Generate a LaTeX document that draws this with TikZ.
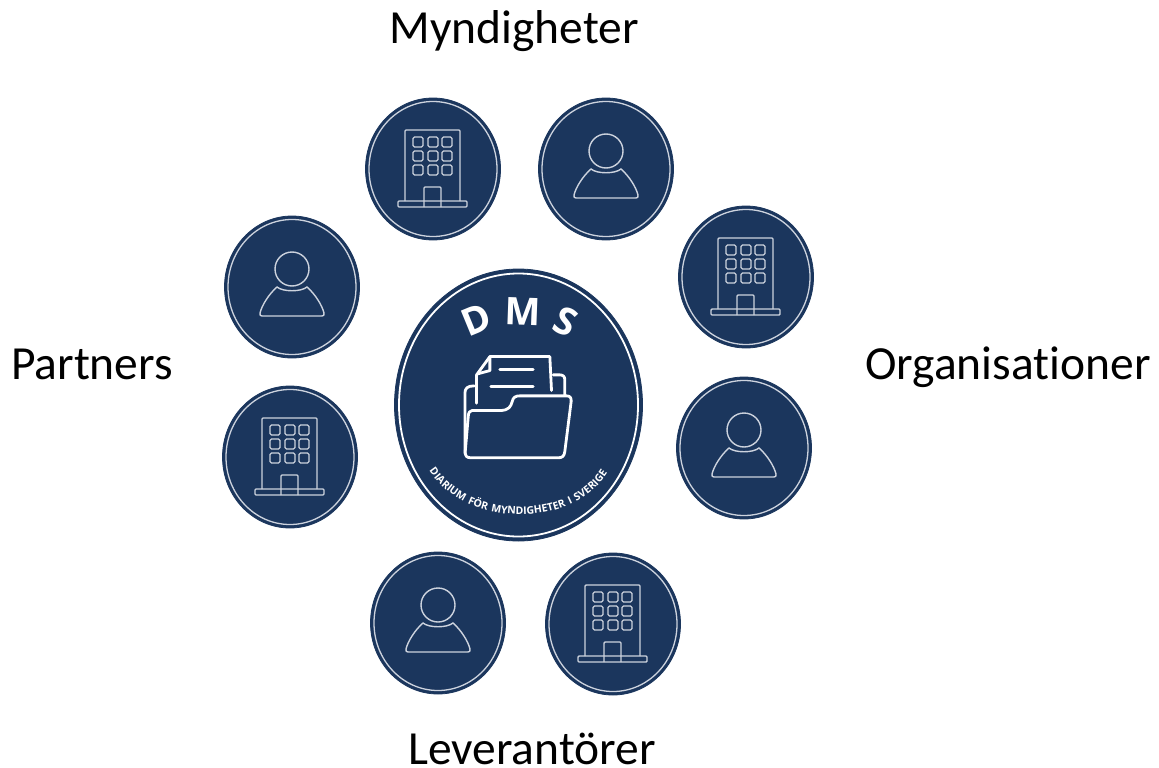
\documentclass[tikz,border=0pt]{standalone}
\usepackage{fontspec}
\setmainfont[RawFeature=-liga]{Carlito}
\newfontfamily\badgefont{Open Sans}
\newfontfamily\badgewide[LetterSpace=11]{Open Sans}
\usetikzlibrary{positioning,shapes.geometric,decorations.text}
\definecolor{dmsnavy}{HTML}{1B365D}
\definecolor{dmsline}{HTML}{CDD3DE}

\begin{document}
\begin{tikzpicture}[
    x=1pt, y=-1pt,
    disc/.style={ellipse, draw=dmsnavy, line width=0.8pt, fill=dmsnavy, minimum width=135pt, minimum height=142pt, inner sep=0pt},
    ring/.style={ellipse, draw=dmsline, line width=1.3pt, minimum width=128pt, minimum height=135pt, inner sep=0pt},
    icon/.style={draw=dmsline, line width=1.4pt, rounded corners=1pt},
    paperline/.style={draw=white, line width=2.8pt, line join=round, line cap=round},
    title/.style={font=\fontsize{47.5}{55}\selectfont, inner sep=0pt, anchor=base},
    building/.pic={
      \node[ring] (-r) at (0,0) {};
      \path[icon] (-28,32) -- (-28,-39) -- (27,-39) -- (27,32);
      \path[icon] (-35,32) rectangle (34,38);
      \path[icon] (-9,38) -- (-9,18) -- (8,18) -- (8,38);
      \foreach \wx in {-15,0,14}
        \foreach \wy in {-27,-13,1}
          \path[icon, rounded corners=1.5pt, line width=1.2pt] (\wx-5,\wy-5) rectangle (\wx+5,\wy+5);
    },
    person/.pic={
      \node[ring] (-r) at (0,0) {};
      \draw[icon] (0,-18) circle[radius=17];
      \path[icon, rounded corners=0pt] (-15,0) .. controls (-9,5) and (9,5) .. (15,0)
        .. controls (23,7) and (30,18) .. (32,26)
        .. controls (32.5,28) and (31.5,29) .. (30,29) -- (-30,29)
        .. controls (-31.5,29) and (-32.5,28) .. (-32,26)
        .. controls (-30,18) and (-23,7) .. (-15,0) -- cycle;
    }
  ]
  \useasboundingbox (0,0) rectangle (1159,768);

  % Centre badge
  \node[disc, minimum width=248pt, minimum height=272pt] (dms) at (518.5,405) {};
  \node[ring, draw=white, line width=1.8pt, minimum width=239pt, minimum height=263pt] (dmsring) at (dms) {};

  % Folder, in a grid three times finer
  \begin{scope}[shift={(385,260)}, x=0.333pt, y=-0.333pt]
    \path[paperline] (275,430) -- (275,345) -- (315,290) -- (495,290) -- (500,392);
    \path[paperline] (315,290) -- (315,332) -- (278,342);
    \path[paperline] (345,328) -- (445,328);
    \path[paperline] (318,380) -- (445,380);
    \path[paperline] (268,378) .. controls (248,378) and (240,385) .. (240,400) -- (240,580);
    \path[paperline] (505,345) -- (525,345) .. controls (535,345) and (540,350) .. (540,360) -- (540,405);
    \path[paperline] (262,452) -- (345,452) .. controls (372,452) and (378,440) .. (382,425)
      .. controls (385,412) and (392,408) .. (405,408) -- (545,408)
      .. controls (556,408) and (560,414) .. (559,425) -- (540,575)
      .. controls (538,590) and (532,594) .. (520,594) -- (258,594)
      .. controls (245,594) and (240,588) .. (241,575) -- (250,470)
      .. controls (251,458) and (254,452) .. (262,452) -- cycle;
  \end{scope}

  % Curved badge texts
  \path[decorate, decoration={text along path, text align=center,
      text={|\badgefont\bfseries\fontsize{38}{42}\selectfont\color{white}|D M S}}]
    (452,352) .. controls (488,316) and (550,316) .. (586,352);
  \path[decorate, decoration={text along path, text align=center,
      text={|\badgewide\bfseries\fontsize{10.5}{12}\selectfont\color{white}|DIARIUM FÖR MYNDIGHETER I SVERIGE}}]
    (420,452) .. controls (448,535) and (592,535) .. (616,454);

  % Ring of discs
  \node[disc] (bldgtop) at (433,169) {};
  \node[disc] (persontop) at (606,169) {};
  \node[disc] (bldgright) at (746,277) {};
  \node[disc] (personright) at (744,448) {};
  \node[disc] (bldgbottom) at (613,624) {};
  \node[disc] (personbottom) at (438,623) {};
  \node[disc] (bldgleft) at (290,457) {};
  \node[disc] (personleft) at (292,287) {};
  \foreach \b in {bldgtop,bldgright,bldgbottom,bldgleft}
    \pic (\b i) at (\b) {building};
  \foreach \p in {persontop,personright,personbottom,personleft}
    \pic (\p i) at (\p) {person};

  % Labels
  \node[title] (myndigheter) at (514,44) {Myndigheter};
  \node[title] (partners) at (92,379) {Partners};
  \node[title] (organisationer) at (1008,379) {Organisationer};
  \node[title] (leverantorer) at (532,764) {Leverantörer};
\end{tikzpicture}
\end{document}
